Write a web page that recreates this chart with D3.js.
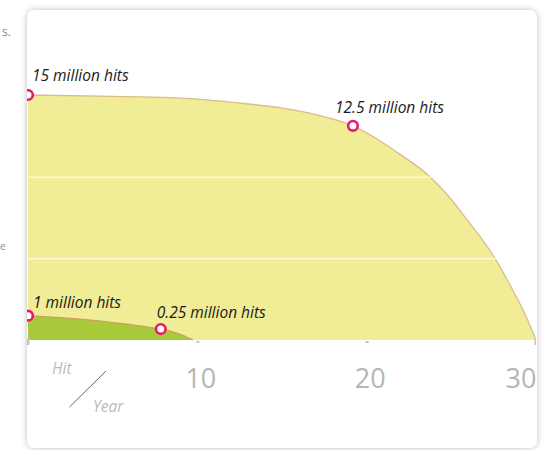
<!DOCTYPE html>
<html>
<head>
<meta charset="utf-8">
<script src="https://cdn.jsdelivr.net/npm/d3@7/dist/d3.min.js"></script>
<style>
  html, body { margin: 0; padding: 0; background: #ffffff; }
  svg { display: block; }
</style>
</head>
<body>
<svg id="chart" width="546" height="450"></svg>
<script>
// ---- data ----
const bigYears   = [0, 5, 10, 13, 15, 17, 19.19, 21, 22, 23.74, 25, 25.9, 27, 27.58, 28.5, 29.3, 30];
const bigHits    = [15, 14.92, 14.75, 14.45, 14.2, 13.8, 13.11, 12.05, 11.35, 10, 8.6, 7.4, 5.9, 5.0, 3.3, 1.7, 0];
const smallYears = [0, 1.2, 2.48, 4, 5.43, 6.7, 7.84, 8.4, 8.78, 9.1, 9.37, 9.6, 9.73];
const smallHits  = [1.49, 1.42, 1.33, 1.19, 1.02, 0.85, 0.67, 0.54, 0.42, 0.3, 0.18, 0.07, 0];
const markerYears = [0, 19.19, 0, 7.84];
const markerHits  = [15, 13.11, 1.49, 0.67];
const markerLabels = ["15 million hits", "12.5 million hits", "1 million hits", "0.25 million hits"];
const xTickValues = [0, 10, 20, 30];
const xTickLabels = ["", "10", "20", "30"];
const gridValues = [5, 10];

const svg = d3.select("#chart");

// card with shadow
const defs = svg.append("defs");
const f = defs.append("filter").attr("id", "shadow").attr("x", "-10%").attr("y", "-10%").attr("width", "120%").attr("height", "120%");
f.append("feGaussianBlur").attr("in", "SourceAlpha").attr("stdDeviation", 3).attr("result", "b");
f.append("feComponentTransfer").attr("in", "b").attr("result", "s")
  .append("feFuncA").attr("type", "linear").attr("slope", 0.28);
const fm = f.append("feMerge");
fm.append("feMergeNode").attr("in", "s");
fm.append("feMergeNode").attr("in", "SourceGraphic");

// fragments of surrounding page text
svg.append("text").attr("x", 2).attr("y", 36)
  .attr("font-family", "Open Sans, sans-serif").attr("font-size", 12).attr("fill", "#888").text("s.");
svg.append("text").attr("x", 0).attr("y", 250)
  .attr("font-family", "Open Sans, sans-serif").attr("font-size", 10).attr("fill", "#888").text("e");

svg.append("rect").attr("x", 27).attr("y", 10).attr("width", 510).attr("height", 438)
  .attr("rx", 8).attr("fill", "#fff").attr("filter", "url(#shadow)");

const clip = defs.append("clipPath").attr("id", "cardclip");
clip.append("rect").attr("x", 27).attr("y", 10).attr("width", 509).attr("height", 438).attr("rx", 8);

const g = svg.append("g").attr("clip-path", "url(#cardclip)");

const x = d3.scaleLinear().domain([0, 30]).range([28, 536]);
const y = d3.scaleLinear().domain([0, 15]).range([340, 95]);

const bigData = bigYears.map((v, i) => [v, bigHits[i]]);
const smallData = smallYears.map((v, i) => [v, smallHits[i]]);

const area = d3.area().x(d => x(d[0])).y0(y(0)).y1(d => y(d[1])).curve(d3.curveMonotoneX);
const line = d3.line().x(d => x(d[0])).y(d => y(d[1])).curve(d3.curveMonotoneX);

g.append("path").datum(bigData).attr("d", area).attr("fill", "#f1ec96");
g.append("path").datum(bigData).attr("d", line).attr("fill", "none").attr("stroke", "#d9bd8c").attr("stroke-width", 1.3);

// gridlines
g.selectAll("line.grid").data(gridValues).enter().append("line")
  .attr("x1", x(0)).attr("x2", x(30))
  .attr("y1", d => y(d) + 0.5).attr("y2", d => y(d) + 0.5)
  .attr("stroke", "#fff").attr("stroke-width", 1);

g.append("path").datum(smallData).attr("d", area).attr("fill", "#a8c93a");
g.append("path").datum(smallData).attr("d", line).attr("fill", "none").attr("stroke", "#c9a25c").attr("stroke-width", 1.2);

// axis ticks
const xAxis = d3.axisBottom(x).tickValues(xTickValues).tickSize(0).tickFormat((d, i) => xTickLabels[i]);
const ax = g.append("g").attr("transform", `translate(0,${y(0)})`).call(xAxis);
ax.select(".domain").remove();
ax.selectAll(".tick text")
  .attr("font-family", "Open Sans, sans-serif").attr("font-size", 27).attr("fill", "#b5b5b5")
  .attr("dy", 0).attr("y", 48)
  .attr("text-anchor", d => d === 30 ? "end" : "middle")
  .attr("dx", d => d === 30 ? 0 : 3);
ax.selectAll(".tick").append("rect")
  .attr("x", d => (d === 0 || d === 30) ? -2 : -1.5)
  .attr("y", d => (d === 0 || d === 30) ? -2 : 1)
  .attr("width", 3)
  .attr("height", d => (d === 0 || d === 30) ? 7 : 2)
  .attr("fill", "#c4c4c4");

// markers
g.selectAll("circle.m").data(markerYears).enter().append("circle")
  .attr("cx", (d, i) => x(d)).attr("cy", (d, i) => y(markerHits[i]))
  .attr("r", 4.8).attr("fill", "#fff").attr("stroke", "#e8196d").attr("stroke-width", 2.6);

const labelOffsets = [[4, -14], [-18, -13], [5, -8], [-4, -11]];
g.selectAll("text.lbl").data(markerLabels).enter().append("text")
  .attr("x", (d, i) => x(markerYears[i]) + labelOffsets[i][0])
  .attr("y", (d, i) => y(markerHits[i]) + labelOffsets[i][1])
  .attr("font-family", "Open Sans, sans-serif").attr("font-style", "italic")
  .attr("font-size", 15.5).attr("fill", "#1a1a1a")
  .text(d => d);

// Hit / Year corner label
g.append("text").attr("x", 52).attr("y", 374).attr("font-family", "Open Sans, sans-serif")
  .attr("font-style", "italic").attr("font-size", 15.5).attr("fill", "#bbbbbb").text("Hit");
g.append("text").attr("x", 93).attr("y", 412).attr("font-family", "Open Sans, sans-serif")
  .attr("font-style", "italic").attr("font-size", 15.5).attr("fill", "#bbbbbb").text("Year");
g.append("line").attr("x1", 69.5).attr("y1", 407).attr("x2", 106).attr("y2", 371)
  .attr("stroke", "#666").attr("stroke-width", 1);
</script>
</body>
</html>
